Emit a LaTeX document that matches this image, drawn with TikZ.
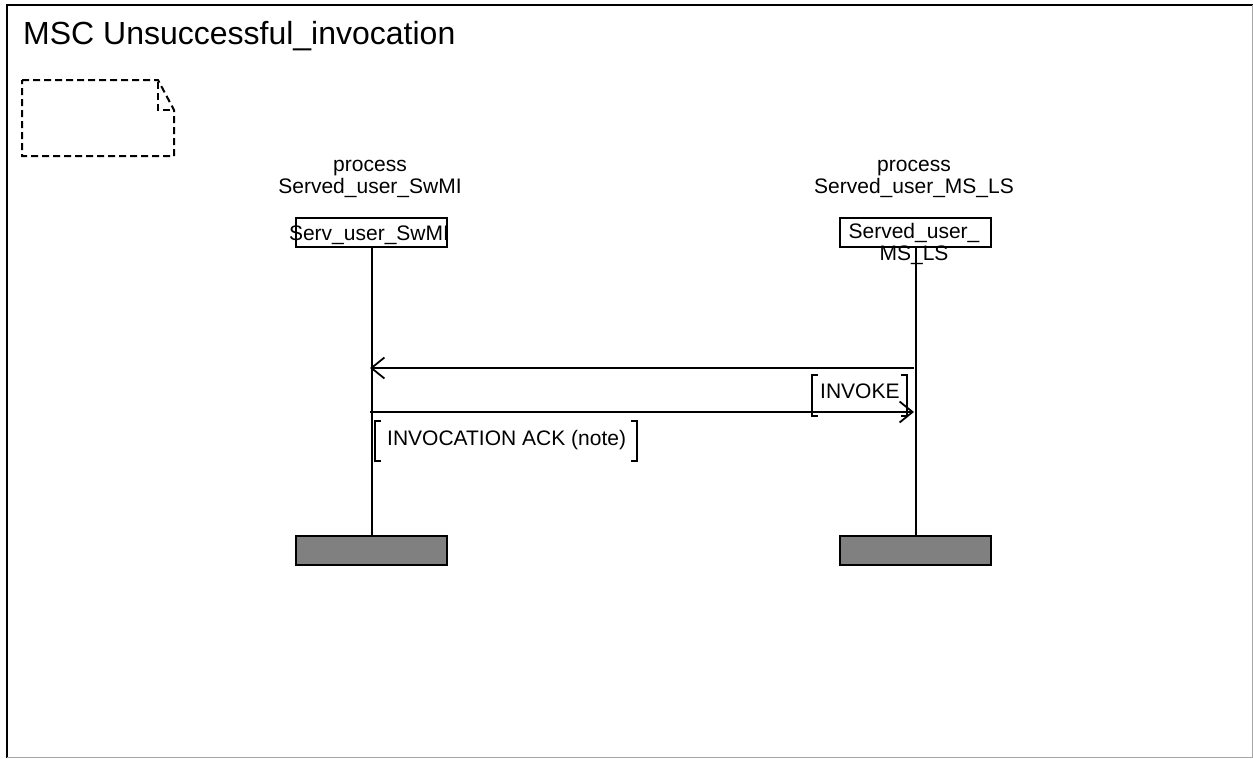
\documentclass[tikz,border=0pt]{standalone}
\usepackage{fontspec}
\setmainfont{Liberation Sans}
\usetikzlibrary{arrows.meta}
\begin{document}
\begin{tikzpicture}[x=1pt,y=-1pt,
  ln/.style={line width=2pt},
  headbox/.style={draw,line width=2pt,minimum width=151pt,minimum height=29pt,inner sep=0pt,anchor=north west},
  endbox/.style={draw,line width=2pt,fill=black!50,minimum width=151pt,minimum height=29pt,inner sep=0pt,anchor=north west},
  lbl/.style={font=\fontsize{21}{22}\selectfont,inner sep=0pt},
  msg/.style={ln,-{Straight Barb[length=13pt,width=21pt,line width=1.8pt]}},
  brk/.style={line width=2pt}
]
\useasboundingbox (0,0) rectangle (1253,758);
% frame
\draw[line width=2.5pt] (7,758) -- (7,5) -- (1253,5);
\draw[line width=1pt,black!35] (1252,5) -- (1252,757) -- (7,757);
% title
\node[anchor=base west,inner sep=0pt,font=\fontsize{32}{36}\selectfont] (title) at (23,44) {MSC Unsuccessful\_invocation};
% dashed note
\draw[ln,dashed,dash pattern=on 7pt off 4pt] (22,80) -- (158,80) -- (174,110) -- (174,156) -- (22,156) -- cycle;
\draw[ln,dashed,dash pattern=on 7pt off 4pt] (158,82) -- (158,110) -- (173,110);
% instance headers
\node[lbl,align=center,anchor=base] (p1) at (370,193) {process\\Served\_user\_SwMI};
\node[lbl,align=center,anchor=base] (p2) at (914,193) {process\\Served\_user\_MS\_LS};
\node[headbox] (h1) at (295,217) {};
\node[headbox] (h2) at (839,217) {};
\node[lbl,anchor=base] (t1) at (369,240) {Serv\_user\_SwMI};
\node[lbl,align=center,anchor=base] (t2) at (914,260) {Served\_user\_\\MS\_LS};
% end boxes
\node[endbox] (e1) at (295,535) {};
\node[endbox] (e2) at (839,535) {};
% lifelines
\draw[ln] (h1.south) -- (e1.north);
\draw[ln] (h2.south) -- (e2.north);
% message points
\coordinate (m1s) at (914,368);
\coordinate (m1e) at (370,368);
\coordinate (m2s) at (370,412);
\coordinate (m2e) at (914,412);
\draw[msg] (m1s) -- (m1e);
\draw[msg] (m2s) -- (m2e);
% INVOKE label
\node[lbl,anchor=base west] (inv) at (820,398) {INVOKE};
\draw[brk] (818,375) -- (812,375) -- (812,416) -- (818,416);
\draw[brk] (901,375) -- (907,375) -- (907,416) -- (901,416);
% INVOCATION ACK label
\node[lbl,anchor=base west] (ack) at (387,445) {INVOCATION ACK (note)};
\draw[brk] (381,421) -- (375,421) -- (375,461) -- (381,461);
\draw[brk] (631,421) -- (637,421) -- (637,461) -- (631,461);
\end{tikzpicture}
\end{document}
